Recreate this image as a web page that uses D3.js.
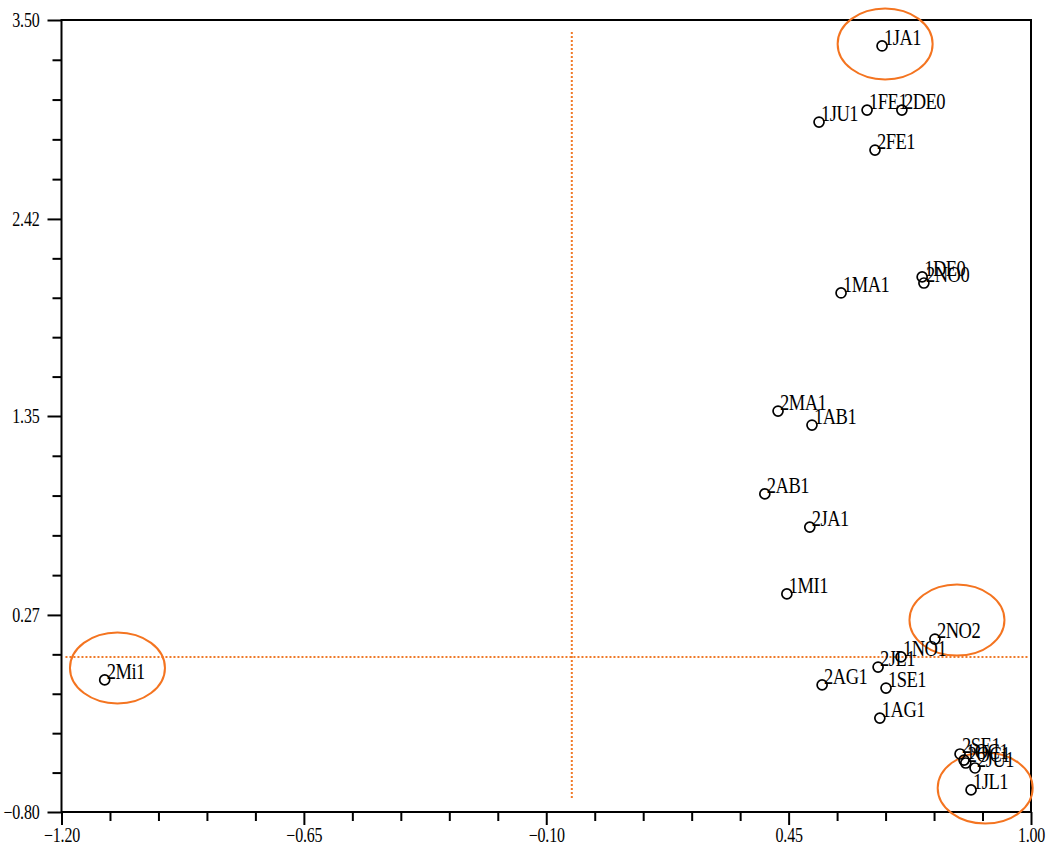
<!DOCTYPE html>
<html>
<head>
<meta charset="utf-8">
<script src="https://cdn.jsdelivr.net/npm/d3@7"></script>
<style>
  body { margin: 0; background: #fff; }
  text { font-family: "Liberation Serif", "DejaVu Serif", serif; }
</style>
</head>
<body>
<div id="chart"></div>
<script>
'use strict';

// point labels and their coordinates
var labels = ["1JA1", "1FE1", "2DE0", "1JU1", "2FE1", "1DE0", "2NO0", "1MA1",
  "2MA1", "1AB1", "2AB1", "2JA1", "1MI1", "2NO2", "1NO1", "2JL1", "1SE1",
  "2AG1", "1AG1", "2Mi1", "2SE1", "1OC1", "2OC1", "2JU1", "1JL1"];
var xValues = [0.662, 0.628, 0.707, 0.519, 0.646, 0.753, 0.757, 0.569,
  0.426, 0.503, 0.396, 0.498, 0.446, 0.782, 0.705, 0.653, 0.671,
  0.526, 0.657, -1.102, 0.839, 0.848, 0.852, 0.873, 0.864];
var yValues = [3.359, 3.011, 3.011, 2.946, 2.794, 2.105, 2.072, 2.018,
  1.377, 1.301, 0.927, 0.747, 0.384, 0.139, 0.042, -0.013, -0.127,
  -0.110, -0.290, -0.083, -0.485, -0.518, -0.534, -0.561, -0.680];

// axis ticks
var xTicks = [-1.20, -0.65, -0.10, 0.45, 1.00];
var yTicks = [-0.80, 0.27, 1.35, 2.42, 3.50];

// dotted reference lines (means) and highlighted points
var meanX = -0.042, meanY = 0.042;
var meanXSpan = [-0.724, 3.435];
var meanYSpan = [-1.191, 0.993];
var circledX = [0.669, -1.073, 0.832, 0.896];
var circledY = [3.370, -0.018, 0.242, -0.670];

var data = labels.map(function (d, i) {
  return { name: d, x: xValues[i], y: yValues[i] };
});

var margin = {top: 20, right: 18, bottom: 34, left: 61.5},
  width = 1049 - margin.left - margin.right,
  height = 846 - margin.top - margin.bottom;

var svg = d3.select("#chart")
  .append("svg")
    .attr("width", width + margin.left + margin.right)
    .attr("height", height + margin.top + margin.bottom)
  .append("g")
    .attr("transform", "translate(" + margin.left + "," + margin.top + ")");

var x = d3.scaleLinear()
  .domain([-1.20, 1.00])
  .range([0, width]);

var y = d3.scaleLinear()
  .domain([-0.80, 3.50])
  .range([height, 0]);

// minor ticks: 5 steps between majors
function minorTicks(ticks) {
  var out = [];
  for (var i = 0; i < ticks.length - 1; i++) {
    var step = (ticks[i + 1] - ticks[i]) / 5;
    for (var k = 1; k < 5; k++) out.push(ticks[i] + step * k);
  }
  return out;
}

// the original text is a bit stretched vertically
var stretch = "scale(1,1.25)";

// X axis
var gx = svg.append("g")
  .attr("transform", "translate(0," + height + ")");
gx.append("g")
  .call(d3.axisBottom(x).tickValues(minorTicks(xTicks)).tickSize(9).tickFormat(""))
  .call(function (g) { g.select(".domain").remove(); });
gx.append("g")
  .call(d3.axisBottom(x).tickValues(xTicks).tickSize(13)
    .tickFormat(d3.format(".2f")))
  .call(function (g) { g.select(".domain").remove(); })
  .selectAll(".tick text")
    .attr("y", 0).attr("dy", null)
    .attr("transform", "translate(0,30) " + stretch);

// Y axis
var gy = svg.append("g");
gy.append("g")
  .call(d3.axisLeft(y).tickValues(minorTicks(yTicks)).tickSize(9).tickFormat(""))
  .call(function (g) { g.select(".domain").remove(); });
gy.append("g")
  .call(d3.axisLeft(y).tickValues(yTicks).tickSize(14)
    .tickFormat(d3.format(".2f")))
  .call(function (g) { g.select(".domain").remove(); })
  .selectAll(".tick text")
    .attr("x", 0).attr("dy", null)
    .attr("transform", "translate(-22,6.5) " + stretch);

svg.selectAll(".tick line").attr("stroke", "#000").attr("stroke-width", 2);
svg.selectAll(".tick text")
  .attr("fill", "#000")
  .style("font-size", "16px")
  .style("font-family", "'Liberation Serif', serif")
  .style("letter-spacing", "-0.2px");

// frame
svg.append("rect")
  .attr("x", 0).attr("y", 0)
  .attr("width", width).attr("height", height)
  .attr("fill", "none")
  .attr("stroke", "#000")
  .attr("stroke-width", 2);

// dotted mean lines
svg.append("line")
  .attr("x1", x(meanX)).attr("x2", x(meanX))
  .attr("y1", y(meanXSpan[0])).attr("y2", y(meanXSpan[1]))
  .attr("stroke", "#f07a28").attr("stroke-width", 2)
  .attr("stroke-dasharray", "2,2");
svg.append("line")
  .attr("x1", x(meanYSpan[0])).attr("x2", x(meanYSpan[1]))
  .attr("y1", y(meanY)).attr("y2", y(meanY))
  .attr("stroke", "#f07a28").attr("stroke-width", 2)
  .attr("stroke-dasharray", "2,2");

// highlight ellipses
svg.append("g")
  .selectAll("ellipse")
  .data(circledX)
  .enter()
  .append("ellipse")
    .attr("cx", function (d) { return x(d); })
    .attr("cy", function (d, i) { return y(circledY[i]); })
    .attr("rx", 47.5)
    .attr("ry", 35.5)
    .attr("fill", "none")
    .attr("stroke", "#f47420")
    .attr("stroke-width", 2);

// points
svg.append("g")
  .selectAll("circle")
  .data(data)
  .enter()
  .append("circle")
    .attr("cx", function (d) { return x(d.x); })
    .attr("cy", function (d) { return y(d.y); })
    .attr("r", 5)
    .attr("fill", "none")
    .attr("stroke", "#000")
    .attr("stroke-width", 1.7);

// labels
svg.append("g")
  .selectAll("text")
  .data(data)
  .enter()
  .append("text")
    .attr("transform", function (d) {
      return "translate(" + (x(d.x) + 2) + "," + (y(d.y) - 1) + ") " + stretch;
    })
    .attr("fill", "#000")
    .style("font-size", "18.5px")
    .style("letter-spacing", "-0.5px")
    .text(function (d) { return d.name; });
</script>
</body>
</html>
